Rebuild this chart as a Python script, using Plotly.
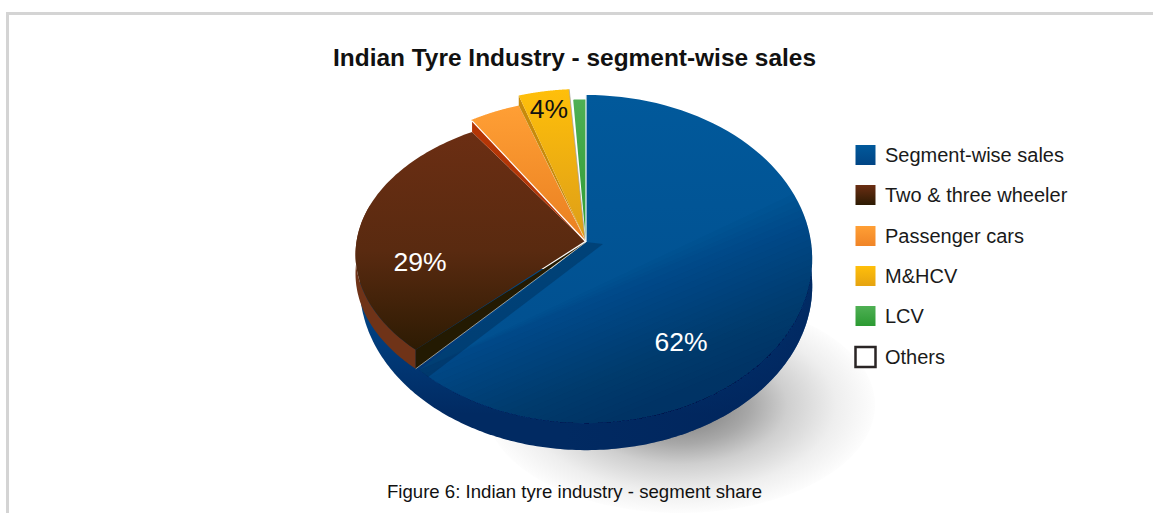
import numpy as np
import plotly.graph_objects as go

# Chart data
categories = ["Segment-wise sales", "Two & three wheeler", "Passenger cars", "M&HCV", "LCV", "Others"]
shares = [62, 29, 4, 4, 1, 0]
labelled = [True, True, False, True, False, False]

TITLE = "Indian Tyre Industry - segment-wise sales"
CAPTION = "Figure 6: Indian tyre industry - segment share"

# Canvas and projection of the tilted disc
W, H = 1153, 513
CX, CY = 586, 242      # pie apex in pixels
RX, RY = 225.0, 162.3  # pixels per data unit
TILT = 0.104           # perspective foreshortening
DEPTH = 27             # disc thickness in pixels


def ux(px):
    return (px - CX) / RX


def uy(py):
    return (CY - py) / RY


def rim(theta, sx=1.0, sy=1.0, dx=0.0, dy=0.0):
    """Point(s) of the disc edge; theta is in degrees clockwise from twelve o'clock."""
    t = np.radians(theta)
    d = 1 + TILT * np.cos(t)
    return sx * np.sin(t) / d + dx / RX, sy * np.cos(t) / d - dy / RY


# Cumulative angle of each slice, derived from its share
edges = np.cumsum([0] + shares) * 3.6


def flip(stops):
    """Stops listed top to bottom, converted to the order a vertical fill gradient expects."""
    return [[1 - p, c] for p, c in reversed(stops)]


# Slice styling: gradient stops and how each one is displaced from the disc
slice_grad = [
    [[0, "#01599b"], [1, "#014d8c"]],
    [[0, "#6b2e13"], [0.55, "#592a10"], [1, "#2d1b03"]],
    [[0, "#ff9f35"], [1, "#e97f20"]],
    [[0, "#ffbf0a"], [1, "#dd9e18"]],
    [[0, "#4fb054"], [1, "#2b9a32"]],
]
slice_shift = [
    dict(),
    dict(sx=1.01, sy=0.858, dx=-2, dy=-2),
    dict(dx=-4, dy=4),
    dict(dx=-4, dy=-6),
    dict(sy=0.97),
]
apex_shift = [(0, 0), (-1, -1), (0, 0), (-1, -3), (0, 0)]

fig = go.Figure()


def polygon(xs, ys, grad=None, colour=None, gtype="vertical"):
    kw = dict(x=np.asarray(xs).tolist(), y=np.asarray(ys).tolist(), mode="none", fill="toself",
              hoverinfo="skip", showlegend=False)
    if grad is not None:
        stops = flip(grad) if gtype == "vertical" else grad
        kw["fillgradient"] = dict(type=gtype, colorscale=stops)
        kw["fillcolor"] = "rgba(0,0,0,0)"
    else:
        kw["fillcolor"] = colour
    fig.add_trace(go.Scatter(**kw))


def stroke(xs, ys, colour, width=1.0):
    fig.add_trace(go.Scatter(x=list(xs), y=list(ys), mode="lines", line=dict(color=colour, width=width),
                             hoverinfo="skip", showlegend=False))


def wedge(i):
    th = np.linspace(edges[i], edges[i + 1], 90)
    x, y = rim(th, **slice_shift[i])
    ax, ay = apex_shift[i]
    return np.r_[ax / RX, x, ax / RX], np.r_[-ay / RY, y, -ay / RY]


# Soft shadow cast to the lower right
t = np.linspace(0, 2 * np.pi, 180)
polygon(ux(680 + 195 * np.cos(t)), uy(405 + 108 * np.sin(t)),
        grad=[[0, "#707070"], [0.36, "#a8a8a8"], [0.55, "#cfcfcf"], [0.8, "#eeeeee"], [1, "#fdfdfd"]],
        gtype="radial")

# Side wall of the disc, darkening towards the right
th = np.linspace(90, 270, 200)
wx, wy = rim(th, dy=DEPTH)
polygon(wx, wy, grad=[[0, "#014d8f"], [0.45, "#013a78"], [0.8, "#012a62"], [1, "#012a62"]])
polygon(wx, wy, grad=[[0, "rgba(1,35,90,0)"], [0.45, "rgba(1,35,90,0)"], [1, "rgba(1,35,90,0.8)"]],
        gtype="horizontal")

# Top face of the largest slice, with a diagonal falloff to the lower right
bx, by = wedge(0)
polygon(bx, by, grad=slice_grad[0])
th = np.linspace(edges[0], edges[1], 400)
ax_, ay_ = rim(th)
proj = 0.5 * ax_ - 0.87 * ay_
for level in np.linspace(0.2, 1.0, 24):
    keep = proj > level
    if keep.sum() > 2:
        polygon(ax_[keep], ay_[keep], colour="rgba(0,20,70,0.028)")

# Shaded strip of the large slice next to the raised neighbour
b_end = rim(edges[1])
polygon([0, b_end[0], b_end[0] + ux(CX + 9), ux(CX + 17)],
        [0, b_end[1], b_end[1] + uy(CY + 7), uy(CY + 2)],
        colour="rgba(0,25,55,0.3)")

# Orange and green slices sit flat on the disc
polygon(*wedge(4), grad=slice_grad[4])
polygon(*wedge(2), grad=slice_grad[2])

# Raised slice: outer rim band, lower wall, upper wall, then its face
th = np.linspace(edges[1], 285, 80)
rx0, ry0 = rim(th, **slice_shift[1])
rx1, ry1 = rx0, ry0 - 19 / RY
polygon(np.r_[rx0, rx1[::-1]], np.r_[ry0, ry1[::-1]], colour="#6f3318")
c_low = rim(edges[1], **slice_shift[1])
c_up = rim(edges[2], **slice_shift[1])
polygon([0, c_low[0], c_low[0], 0], [0, c_low[1] - 19 / RY, c_low[1], 0], colour="#231a02")
polygon(*wedge(1), grad=slice_grad[1])
polygon([0, c_up[0], c_up[0]], [0, c_up[1], c_up[1] + 11 / RY], colour="#b43606")
stroke([0, c_up[0]], [0, c_up[1] + 11 / RY], "#ffffff", 1.2)
stroke([0, c_low[0]], [0, c_low[1] - 19 / RY], "rgba(235,225,200,0.6)", 1.0)

# Exploded yellow slice with its side wall
y_left = rim(edges[3], **slice_shift[3])
y_apex = apex_shift[3][0] / RX, -apex_shift[3][1] / RY
polygon([y_apex[0], y_left[0], y_left[0]], [y_apex[1], y_left[1], y_left[1] - 10 / RY], colour="#c78a0c")
polygon(*wedge(3), grad=slice_grad[3])
y_right = rim(edges[4], **slice_shift[3])
stroke([y_apex[0], y_right[0]], [y_apex[1], y_right[1]], "rgba(160,160,160,0.7)", 1.0)

# Hairline between the first and last slices
stroke([0, 0], [0, 1 / (1 + TILT)], "#f2f5f7", 1.2)

# Value labels
label_pos = [(681, 344), (420, 264), None, (549, 111), None, None]
label_col = ["#ffffff", "#ffffff", None, "#111111", None, None]
for v, show, pos, col in zip(shares, labelled, label_pos, label_col):
    if show:
        fig.add_trace(go.Scatter(x=[ux(pos[0])], y=[uy(pos[1])], mode="text", text=[f"{v}%"],
                                 textfont=dict(family="Liberation Sans", size=26.5, color=col),
                                 hoverinfo="skip", showlegend=False))

# Key at the right: swatch column and its captions
key_rows = [155, 195, 236, 276, 316, 357]
key_top = ["#01599b", "#6b2e13", "#ff9f35", "#ffbf0a", "#4fb054", "#ffffff"]
key_end = ["#014585", "#2d1b03", "#f08427", "#e5a310", "#2b9a32", "#ffffff"]
key_x = ux(865.5)
key_y = [uy(r) for r in key_rows]
fig.add_trace(go.Scatter(
    x=[key_x] * len(categories), y=key_y, mode="markers", hoverinfo="skip", showlegend=False,
    marker=dict(symbol="square", size=20, opacity=1, color=key_top,
                gradient=dict(type="vertical", color=key_end),
                line=dict(color=["rgba(0,0,0,0)"] * 5 + ["#2a2525"], width=[0] * 5 + [2.5]))))
fig.add_trace(go.Scatter(
    x=[ux(885)] * len(categories), y=[uy(r + 1.5) for r in key_rows], mode="text", text=categories,
    textposition="middle right",
    textfont=dict(family="Liberation Sans", size=20, color="#1a1a1a"),
    hoverinfo="skip", showlegend=False))

# Panel frame along the top and left
frame = dict(type="line", xref="paper", yref="paper", line=dict(color="#d4d4d4", width=3))
shapes = [
    dict(frame, x0=7.5 / W, x1=1, y0=1 - 13.5 / H, y1=1 - 13.5 / H),
    dict(frame, x0=7.5 / W, x1=7.5 / W, y0=0, y1=1 - 12 / H),
]

annotations = [
    dict(text=f"<b>{TITLE}</b>", x=574.5 / W, y=1 - 57.5 / H, xref="paper", yref="paper", showarrow=False,
         xanchor="center", yanchor="middle", font=dict(family="Liberation Sans", size=24.45, color="#111111")),
    dict(text=CAPTION, x=574 / W, y=1 - 491 / H, xref="paper", yref="paper", showarrow=False,
         xanchor="center", yanchor="middle", font=dict(family="Liberation Sans", size=18.6, color="#111111")),
]

fig.update_layout(
    width=W, height=H, margin=dict(l=0, r=0, t=0, b=0), showlegend=False,
    paper_bgcolor="#ffffff", plot_bgcolor="#ffffff", shapes=shapes, annotations=annotations,
    xaxis=dict(range=[ux(0), ux(W)], visible=False, fixedrange=True),
    yaxis=dict(range=[uy(H), uy(0)], visible=False, fixedrange=True),
)
fig.write_html("out.html", config=dict(displayModeBar=False))
